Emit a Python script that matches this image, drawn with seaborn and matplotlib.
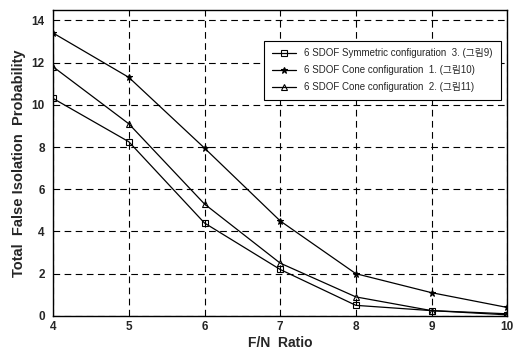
import pandas as pd
import seaborn as sns
import matplotlib.pyplot as plt

fn_ratio = [4, 5, 6, 7, 8, 9, 10]
sym_conf3 = [10.3, 8.25, 4.4, 2.2, 0.5, 0.25, 0.05]
cone_conf1 = [13.4, 11.3, 7.95, 4.5, 2.0, 1.1, 0.4]
cone_conf2 = [11.8, 9.1, 5.3, 2.5, 0.9, 0.25, 0.1]
labels = ["6 SDOF Symmetric configuration  3. (그림9)",
          "6 SDOF Cone configuration  1. (그림10)",
          "6 SDOF Cone configuration  2. (그림11)"]

sns.set_theme(style="ticks")
plt.rcParams['font.family'] = ['Liberation Sans', 'Noto Sans CJK KR', 'DejaVu Sans']

fig = plt.figure(figsize=(5.16, 3.51), dpi=100)
ax = fig.add_axes([0.103, 0.1, 0.88, 0.872])

series = [(sym_conf3, 's', 'none'), (cone_conf1, '*', 'black'), (cone_conf2, '^', 'none')]
for (vals, mk, fc), lab in zip(series, labels):
    sns.lineplot(x=fn_ratio, y=vals, ax=ax, color='black', lw=0.9, marker=mk,
                 markersize=5, markerfacecolor=fc, markeredgecolor='black',
                 markeredgewidth=0.8, label=lab)

ax.set_xlim(4, 10)
ax.set_ylim(0, 14.5)
ax.set_yticks(range(0, 15, 2))
ax.grid(True, color='black', linestyle=(0, (6, 4)), linewidth=0.8)
for s in ax.spines.values():
    s.set_color('black')
    s.set_linewidth(1.0)
ax.tick_params(length=0, labelsize=8.5)
ax.tick_params(axis='y', pad=6)
ax.tick_params(axis='x', pad=4)
for t in ax.get_xticklabels() + ax.get_yticklabels():
    t.set_fontweight('bold')
ax.set_xlabel("F/N  Ratio", fontsize=10, fontweight='bold', labelpad=2)
ax.set_ylabel("Total  False Isolation  Probability", fontsize=10.5, fontweight='bold', labelpad=4)

leg = ax.legend(loc='upper right', bbox_to_anchor=(0.996, 0.915), fontsize=7,
                frameon=True, fancybox=False, edgecolor='black', framealpha=1,
                handlelength=2.5, borderpad=0.8, labelspacing=0.7)
leg.get_frame().set_linewidth(0.8)

fig.savefig('out.png', dpi=100)
